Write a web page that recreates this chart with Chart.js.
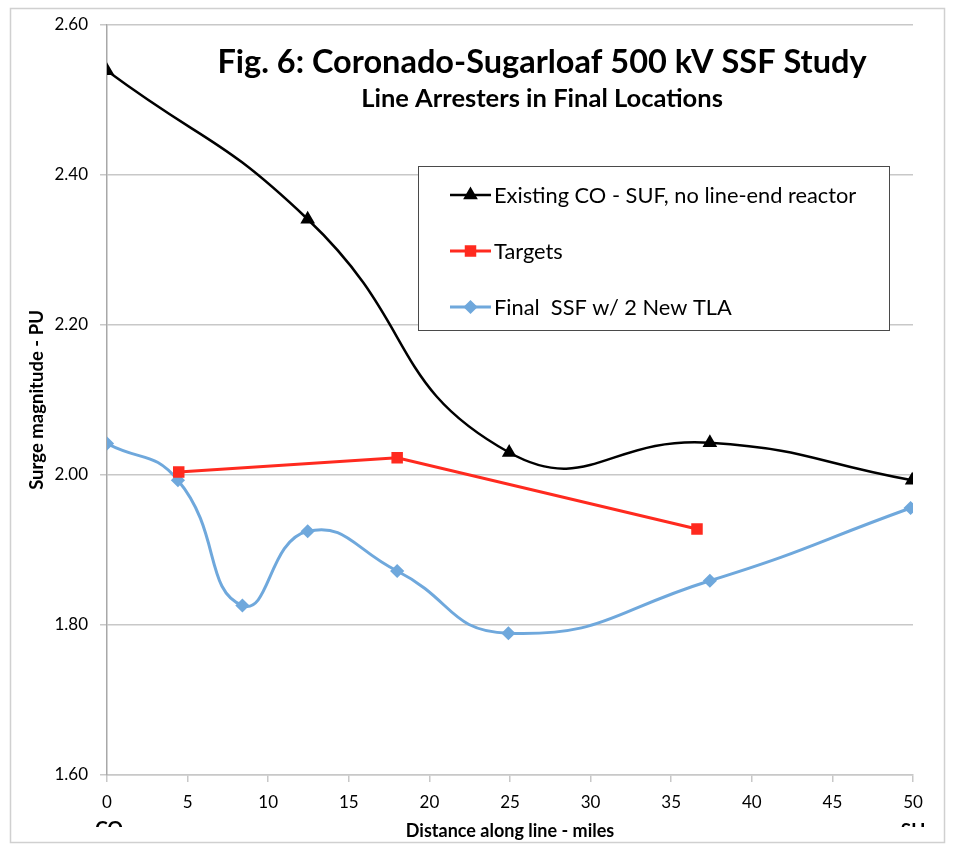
<!DOCTYPE html>
<html>
<head>
<meta charset="utf-8">
<script src="https://cdn.jsdelivr.net/npm/chart.js@4.4.1/dist/chart.umd.min.js"></script>
<style>
  html, body { margin: 0; padding: 0; background: #ffffff; }
  #wrap { width: 955px; height: 851px; position: relative; }
</style>
</head>
<body>
<div id="wrap"><canvas id="c" width="955" height="851"></canvas></div>
<script>
// ---- data ----
const titleText = "Fig. 6: Coronado-Sugarloaf 500 kV SSF Study";
const subtitleText = "Line Arresters in Final Locations";
const xAxisTitle = "Distance along line - miles";
const yAxisTitle = "Surge magnitude - PU";
const endLabels = ["CO", "SU"];

const existingLabel = "Existing CO - SUF, no line-end reactor";
const existingX = [0, 12.45, 24.95, 37.4, 49.95];
const existingY = [2.539, 2.341, 2.030, 2.043, 1.993];

const targetsLabel = "Targets";
const targetsX = [4.45, 18.0, 36.6];
const targetsY = [2.004, 2.023, 1.928];

const finalLabel = "Final  SSF w/ 2 New TLA";
const finalX = [0, 4.4, 8.4, 12.45, 18.0, 24.9, 37.4, 49.85];
const finalY = [2.042, 1.993, 1.826, 1.925, 1.872, 1.789, 1.859, 1.956];

const xTicks = [0, 5, 10, 15, 20, 25, 30, 35, 40, 45, 50];
const yTicks = [1.6, 1.8, 2.0, 2.2, 2.4, 2.6];

const toPts = (xs, ys) => xs.map((x, i) => ({ x: x, y: ys[i] }));

const FONT = "Lato, 'Open Sans', sans-serif";

const decorPlugin = {
  id: 'decor',
  beforeDraw(chart) {
    const ctx = chart.ctx;
    ctx.save();
    ctx.fillStyle = '#ffffff';
    ctx.fillRect(0, 0, chart.width, chart.height);
    ctx.strokeStyle = '#d0d0d0';
    ctx.lineWidth = 1.5;
    ctx.strokeRect(10.5, 8.5, 934, 834);
    ctx.restore();
  },
  afterDraw(chart) {
    const ctx = chart.ctx;
    const xs = chart.scales.x;
    ctx.save();
    // titles
    ctx.fillStyle = '#000000';
    ctx.textAlign = 'center';
    ctx.textBaseline = 'alphabetic';
    ctx.font = "bold 32.5px " + FONT;
    ctx.fillText(titleText, 542, 73);
    ctx.font = "bold 25.5px " + FONT;
    ctx.fillText(subtitleText, 542, 107);

    // legend box
    const bx = 418.5, by = 166.5, bw = 471, bh = 164;
    ctx.fillStyle = '#ffffff';
    ctx.fillRect(bx, by, bw, bh);
    ctx.strokeStyle = '#4a4a4a';
    ctx.lineWidth = 1;
    ctx.strokeRect(bx, by, bw, bh);
    const rows = [195, 251, 307];
    chart.data.datasets.forEach((ds, i) => {
      const y = rows[i];
      ctx.strokeStyle = ds.borderColor;
      ctx.lineWidth = ds.borderWidth;
      ctx.beginPath();
      ctx.moveTo(450, y);
      ctx.lineTo(491, y);
      ctx.stroke();
      ctx.fillStyle = ds.pointBackgroundColor;
      ctx.strokeStyle = ds.pointBorderColor;
      Chart.helpers.drawPoint(ctx, {
        pointStyle: ds.pointStyle, radius: ds.pointRadius, rotation: 0, borderWidth: 1
      }, 470.5, y);
      ctx.fillStyle = '#000000';
      ctx.textAlign = 'left';
      ctx.textBaseline = 'middle';
      ctx.font = "21.8px " + FONT;
      ctx.fillText(ds.label, 494, y + 1);
    });

    // end labels, clipped like the reference
    ctx.save();
    ctx.beginPath();
    ctx.rect(0, 0, chart.width, 827);
    ctx.clip();
    ctx.fillStyle = '#000000';
    ctx.font = "bold 19px " + FONT;
    ctx.textAlign = 'center';
    ctx.textBaseline = 'top';
    ctx.fillText(endLabels[0], xs.getPixelForValue(xTicks[0]) + 2, 819);
    ctx.fillText(endLabels[1], xs.getPixelForValue(xTicks[xTicks.length - 1]), 821);
    ctx.restore();
    ctx.restore();
  }
};

new Chart(document.getElementById('c'), {
  type: 'line',
  data: {
    datasets: [
      {
        label: existingLabel,
        data: toPts(existingX, existingY),
        borderColor: '#000000',
        backgroundColor: '#000000',
        pointBackgroundColor: '#000000',
        pointBorderColor: '#000000',
        borderWidth: 2.5,
        pointStyle: 'triangle',
        pointRadius: 6,
        tension: 0.5,
        order: 1
      },
      {
        label: targetsLabel,
        data: toPts(targetsX, targetsY),
        borderColor: '#ff2a1f',
        backgroundColor: '#ff2a1f',
        pointBackgroundColor: '#ff2a1f',
        pointBorderColor: '#ff2a1f',
        borderWidth: 3,
        pointStyle: 'rect',
        pointRadius: 6,
        tension: 0,
        order: 2
      },
      {
        label: finalLabel,
        data: toPts(finalX, finalY),
        borderColor: '#6fa8dc',
        backgroundColor: '#6fa8dc',
        pointBackgroundColor: '#6fa8dc',
        pointBorderColor: '#6fa8dc',
        borderWidth: 3,
        pointStyle: 'rectRot',
        pointRadius: 5,
        tension: 0.5,
        order: 3
      }
    ]
  },
  options: {
    responsive: false,
    animation: false,
    devicePixelRatio: 1,
    layout: { padding: { left: 10, top: 25, right: 42, bottom: 0 } },
    plugins: {
      legend: { display: false },
      title: { display: false },
      tooltip: { enabled: false }
    },
    scales: {
      x: {
        type: 'linear',
        min: 0, max: 50,
        afterBuildTicks(scale) { scale.ticks = xTicks.map(v => ({ value: v })); },
        afterFit(scale) { scale.height = 76; },
        grid: {
          drawOnChartArea: false,
          drawTicks: true,
          tickLength: 7,
          color: '#c8c8c8',
          lineWidth: 1.5
        },
        border: { display: true, color: '#c8c8c8', width: 1.5 },
        ticks: {
          color: '#000000',
          font: { family: FONT, size: 17 },
          padding: 10,
          maxRotation: 0,
          autoSkip: false
        },
        title: {
          display: true,
          text: xAxisTitle,
          color: '#000000',
          font: { family: FONT, size: 18, weight: 'bold' },
          padding: { top: 0, bottom: 9 }
        }
      },
      y: {
        type: 'linear',
        min: 1.6, max: 2.6,
        afterBuildTicks(scale) { scale.ticks = yTicks.map(v => ({ value: v })); },
        afterFit(scale) { scale.width = 97; },
        grid: {
          drawOnChartArea: true,
          drawTicks: true,
          tickLength: 7,
          color: '#c8c8c8',
          lineWidth: 1.5
        },
        border: { display: true, color: '#a8a8a8', width: 1.5 },
        ticks: {
          color: '#000000',
          font: { family: FONT, size: 17 },
          padding: 12,
          callback: v => Number(v).toFixed(2)
        },
        title: {
          display: true,
          text: yAxisTitle,
          color: '#000000',
          font: { family: FONT, size: 18.5, weight: 'bold' },
          padding: { top: 16, bottom: 0 }
        }
      }
    }
  },
  plugins: [decorPlugin]
});
</script>
</body>
</html>
